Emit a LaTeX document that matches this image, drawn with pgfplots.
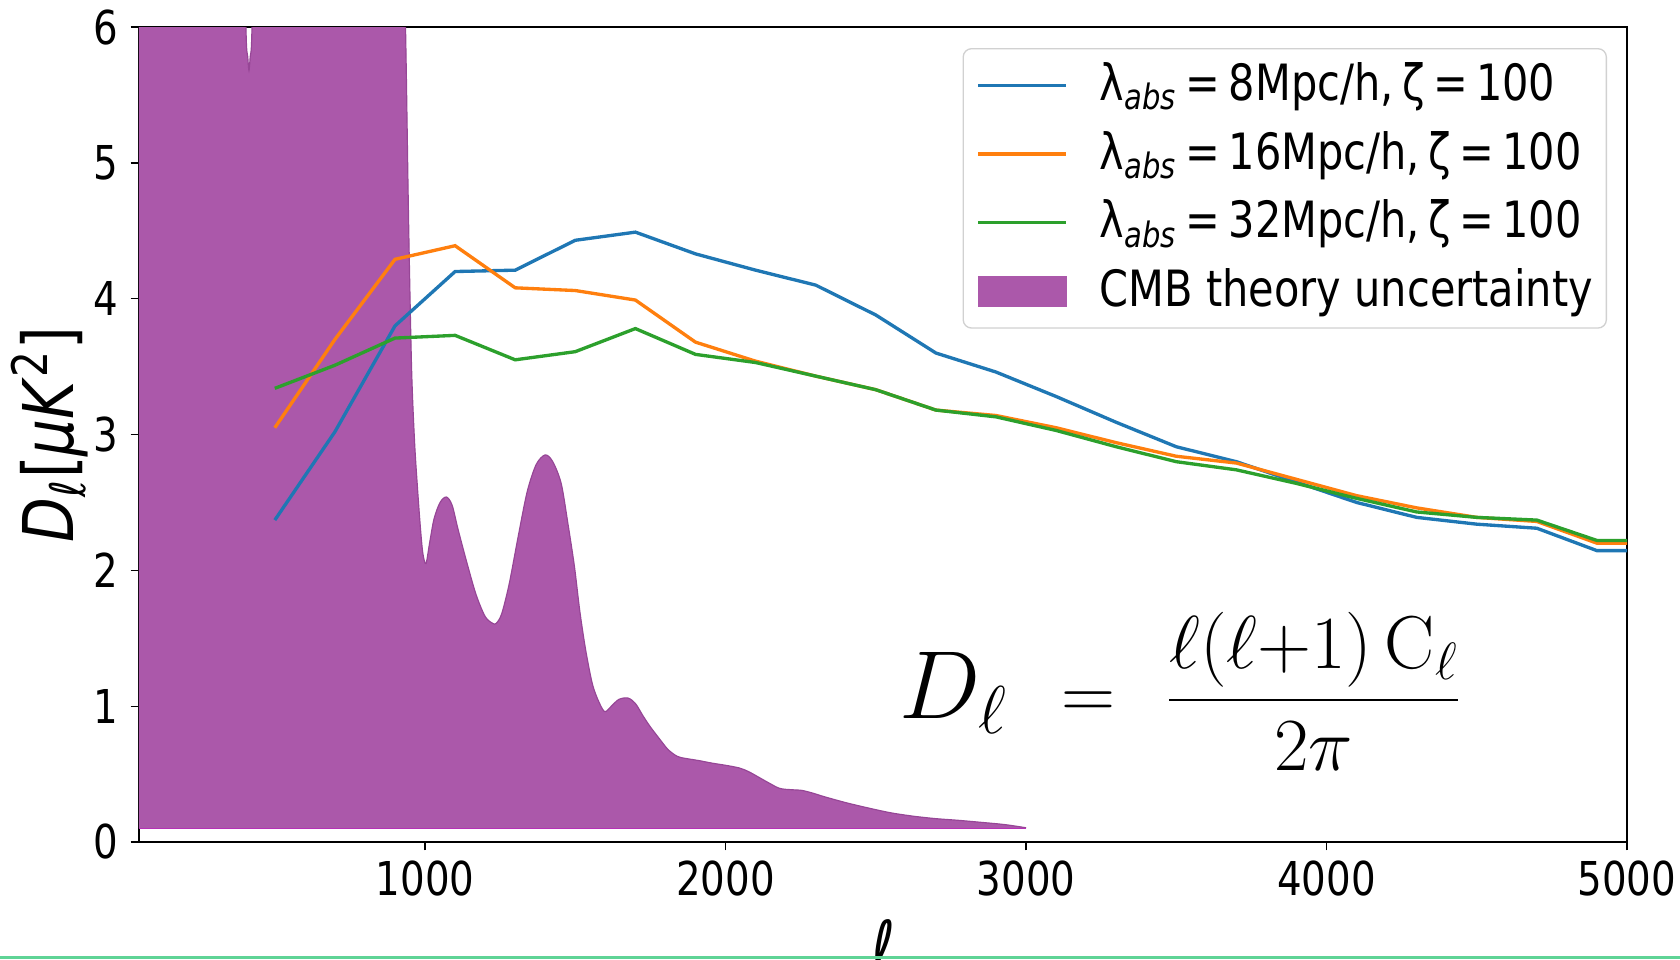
\RequirePackage{fix-cm}
\documentclass[border=0pt]{standalone}
\usepackage[no-math]{fontspec}
\setmainfont{DejaVu Sans}[FakeStretch=0.83]
\usepackage{pgfplots}
\usepackage{pgfplotstable}
\usepgfplotslibrary{fillbetween}
\pgfplotsset{compat=1.18}

\definecolor{tabblue}{RGB}{31,119,180}
\definecolor{taborange}{RGB}{255,127,14}
\definecolor{tabgreen}{RGB}{44,160,44}
\definecolor{cmbfill}{RGB}{171,88,170}
\definecolor{cmbedge}{RGB}{150,70,150}
\definecolor{frameline}{RGB}{95,212,150}

% 21 cm absorption models: D_ell against multipole ell
\pgfplotstableread{
l     blue   orange green
500   2.37   3.05   3.34
700   3.02   3.70   3.51
900   3.80   4.29   3.71
1100  4.20   4.39   3.73
1300  4.21   4.08   3.55
1500  4.43   4.06   3.61
1700  4.49   3.99   3.78
1900  4.33   3.68   3.59
2100  4.21   3.54   3.53
2300  4.10   3.43   3.43
2500  3.88   3.33   3.33
2700  3.60   3.18   3.18
2900  3.46   3.14   3.13
3100  3.28   3.05   3.03
3300  3.09   2.94   2.91
3500  2.91   2.84   2.80
3700  2.80   2.79   2.74
3900  2.65   2.67   2.64
4100  2.50   2.55   2.53
4300  2.39   2.46   2.43
4500  2.34   2.39   2.39
4700  2.31   2.36   2.37
4900  2.145  2.20   2.22
5100  2.145  2.20   2.22
}\spectra

% upper edge of the CMB theory uncertainty band
\pgfplotstableread{
l     up
48    7.5
395   7.5
404   6.0
410   5.78
414   5.68
418   5.78
424   6.0
433   7.5
920   7.5
935   6.0
945   4.6
955   3.5
965   2.95
975   2.6
985   2.3
993   2.12
1003  2.05
1015  2.2
1030  2.38
1050  2.5
1071  2.54
1090  2.48
1110  2.3
1140  2.05
1170  1.82
1200  1.66
1225  1.61
1237  1.61
1255  1.68
1280  1.9
1310  2.25
1340  2.58
1370  2.78
1400  2.85
1425  2.8
1453  2.64
1475  2.35
1497  2.03
1515  1.7
1534  1.42
1555  1.18
1571  1.07
1590  0.98
1601  0.96
1620  1.0
1645  1.05
1675  1.06
1700  1.02
1725  0.93
1749  0.85
1780  0.76
1809  0.68
1840  0.63
1868  0.615
1910  0.6
1957  0.58
2000  0.565
2046  0.545
2075  0.52
2100  0.49
2140  0.44
2180  0.395
2220  0.385
2254  0.38
2290  0.36
2328  0.334
2400  0.29
2476  0.25
2550  0.215
2625  0.19
2700  0.172
2773  0.16
2850  0.145
2930  0.128
3000  0.105
}\cmbband

\begin{document}
\begin{tikzpicture}
\begin{axis}[
  scale only axis,
  width=446.4pt, height=244.5pt,
  xmin=48, xmax=5000, ymin=0, ymax=6,
  xtick={1000,2000,3000,4000,5000},
  ytick={0,1,2,3,4,5,6},
  xtick pos=lower, ytick pos=left,
  scaled x ticks=false,
  /pgf/number format/set thousands separator={},
  /pgf/number format/assume math mode=true,
  tick align=outside,
  major tick length=2.5pt,
  tick style={black, line width=0.4pt},
  axis line style={line width=0.4pt},
  tick label style={font=\fontsize{14}{16}\selectfont},
  xticklabel style={inner sep=0pt, yshift=-3pt},
  yticklabel style={inner sep=0pt, xshift=-3.5pt},
  ylabel={\textit{D}\textsubscript{\textit{ℓ}}[\textit{μK}\textsuperscript{2}]},
  ylabel style={font=\fontsize{21}{24}\selectfont, at={(axis description cs:-0.06,0.5)}, anchor=center, rotate=0},
  xlabel={\textit{ℓ}},
  xlabel style={font=\fontsize{21}{24}\selectfont, at={(axis description cs:0.5,0)}, anchor=north, inner sep=0pt, yshift=-23pt},
  legend image code/.code={\draw[#1] (0pt,0pt) -- (26.4pt,0pt); \path (36pt,0pt);},
  legend cell align=left,
  legend style={at={(1,1)}, anchor=north east, xshift=-6pt, yshift=-6.3pt,
    draw=black!18, rounded corners=2.5pt, fill=white,
    font=\fontsize{15}{18}\selectfont, inner xsep=4pt, inner ysep=3pt,
    row sep=4.6pt,
    nodes={inner sep=0pt, text height=12.5pt, text depth=3.5pt}},
]
% CMB theory uncertainty band, from 0.1 up to the smoothed upper edge
\addplot[name path=cmbup, draw=none, smooth, forget plot] table[x=l, y=up] {\cmbband};
\addplot[name path=cmblow, draw=none, forget plot] coordinates {(48,0.1) (3000,0.1)};
\addplot[cmbfill, forget plot] fill between[of=cmbup and cmblow];
\addplot[cmbedge, line width=0.35pt, smooth, forget plot] table[x=l, y=up] {\cmbband};
\addplot[cmbedge!70!magenta, line width=0.35pt, forget plot] coordinates {(48,0.1) (3000,0.1)};

\addplot[tabblue, line width=1pt] table[x=l, y=blue] {\spectra};
\addlegendentry{λ\textsubscript{\textit{abs}}\,=\,8Mpc/h,\,ζ\,=\,100}
\addplot[taborange, line width=1pt] table[x=l, y=orange] {\spectra};
\addlegendentry{λ\textsubscript{\textit{abs}}\,=\,16Mpc/h,\,ζ\,=\,100}
\addplot[tabgreen, line width=1pt] table[x=l, y=green] {\spectra};
\addlegendentry{λ\textsubscript{\textit{abs}}\,=\,32Mpc/h,\,ζ\,=\,100}
\addlegendimage{legend image code/.code={\fill[cmbfill, sharp corners] (0pt,-4.5pt) rectangle (26.4pt,4.5pt); \path (36pt,0pt);}}
\addlegendentry{CMB theory uncertainty}

\node[anchor=base, inner sep=0pt] at (axis cs:3516,0.907)
  {\fontsize{29}{32}\selectfont$D_\ell$\hspace{16pt}%
   \fontsize{22.5}{26}\selectfont$=$\hspace{15pt}%
   $\displaystyle\frac{\ell(\ell{+}1)\,\mathrm{C}_\ell}{2\pi}$};
\end{axis}
\draw[frameline, line width=0.7pt] (-41.7pt,-34.6pt) -- (462.3pt,-34.6pt);
\pgfresetboundingbox
\useasboundingbox (-41.7pt,-35.1pt) rectangle (462.3pt,252.6pt);
\end{tikzpicture}
\end{document}
